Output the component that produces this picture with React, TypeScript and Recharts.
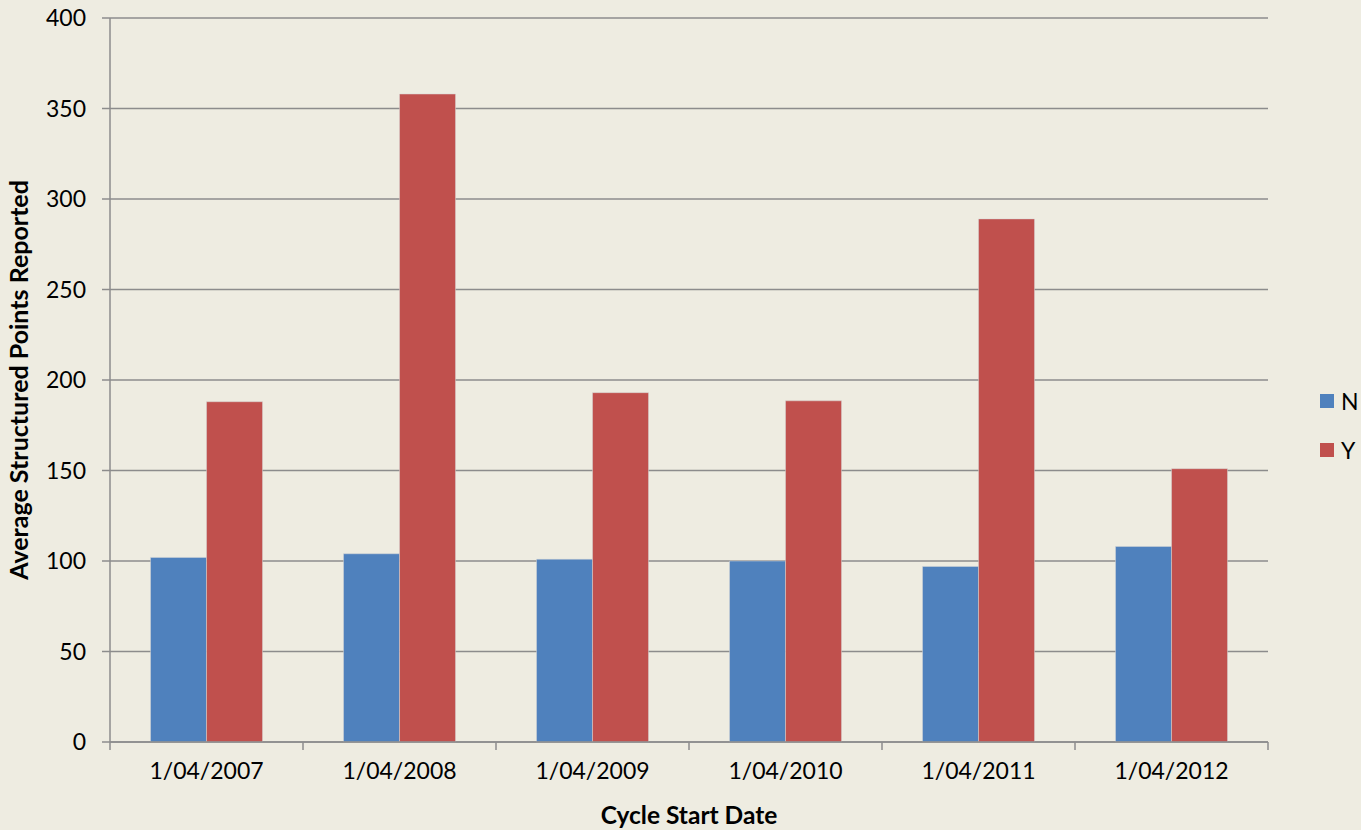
import { BarChart, Bar, XAxis, YAxis, CartesianGrid } from 'recharts';

const categories = ['1/04/2007', '1/04/2008', '1/04/2009', '1/04/2010', '1/04/2011', '1/04/2012'];
const seriesN = [102, 104, 101, 100, 97, 108];
const seriesY = [188, 358, 193, 188.5, 289, 151];
const yTicks = [0, 50, 100, 150, 200, 250, 300, 350, 400];

const data = categories.map((date, i) => ({ date, N: seriesN[i], Y: seriesY[i] }));

const W = 1361;
const H = 830;
const M = { top: 18, right: 93, bottom: 0, left: 0 };
const Y_AXIS_W = 110;
const X_AXIS_H = 88;
const plotW = W - M.left - M.right - Y_AXIS_W;
const band = plotW / categories.length;

const FONT = 'Lato, "Open Sans", sans-serif';
const GRID = '#8c8c8c';

// category axis tick: Excel puts the tick marks between the categories
const XTick = (props: any) => {
  const { x, y, payload, index } = props;
  const left = x - band / 2;
  return (
    <g>
      <line x1={left} x2={left} y1={y - 8} y2={y} stroke={GRID} strokeWidth={1.5} />
      {index === categories.length - 1 && (
        <line x1={x + band / 2} x2={x + band / 2} y1={y - 8} y2={y} stroke={GRID} strokeWidth={1.5} />
      )}
      <text x={x} y={y + 29} textAnchor="middle" fontSize={23} fontFamily={FONT} fill="#000">
        {payload.value}
      </text>
    </g>
  );
};

const legendItems = [
  { name: 'N', color: '#4F81BD' },
  { name: 'Y', color: '#C0504D' },
];

export default function App() {
  return (
    <div style={{ position: 'absolute', left: 0, top: 0, width: W, height: H, background: '#EEECE1' }}>
      <BarChart width={W} height={H} data={data} margin={M} barCategoryGap="21%" barGap={0}>
        <CartesianGrid vertical={false} stroke={GRID} strokeWidth={1.5} />
        <XAxis
          dataKey="date"
          height={X_AXIS_H}
          axisLine={{ stroke: GRID, strokeWidth: 1.5 }}
          tickLine={false}
          tick={<XTick />}
          interval={0}
          label={{
            value: 'Cycle Start Date',
            position: 'insideBottom',
            offset: 6,
            style: { fontFamily: FONT, fontSize: 24.5, fontWeight: 700, fill: '#000' },
          }}
        />
        <YAxis
          width={Y_AXIS_W}
          domain={[0, 400]}
          ticks={yTicks}
          interval={0}
          axisLine={{ stroke: GRID, strokeWidth: 1.5 }}
          tickLine={{ stroke: GRID, strokeWidth: 1.5 }}
          tickSize={8}
          tickMargin={16}
          tick={{ fontFamily: FONT, fontSize: 23, fill: '#000' }}
          label={{
            value: 'Average Structured Points Reported',
            angle: -90,
            position: 'insideLeft',
            offset: 19,
            style: { textAnchor: 'middle', fontFamily: FONT, fontSize: 25, fontWeight: 700, fill: '#000' },
          }}
        />
        <Bar dataKey="N" fill="#4F81BD" stroke="#d6d6d6" strokeWidth={0.5} isAnimationActive={false} />
        <Bar dataKey="Y" fill="#C0504D" stroke="#d6d6d6" strokeWidth={0.5} isAnimationActive={false} />
      </BarChart>
      <div style={{ position: 'absolute', left: 1320, top: 387, fontFamily: FONT, fontSize: 23, color: '#000' }}>
        {legendItems.map((it) => (
          <div key={it.name} style={{ display: 'flex', alignItems: 'center', height: 28, marginBottom: 21 }}>
            <div style={{ width: 14, height: 14, background: it.color, marginRight: 7 }} />
            <span>{it.name}</span>
          </div>
        ))}
      </div>
    </div>
  );
}
